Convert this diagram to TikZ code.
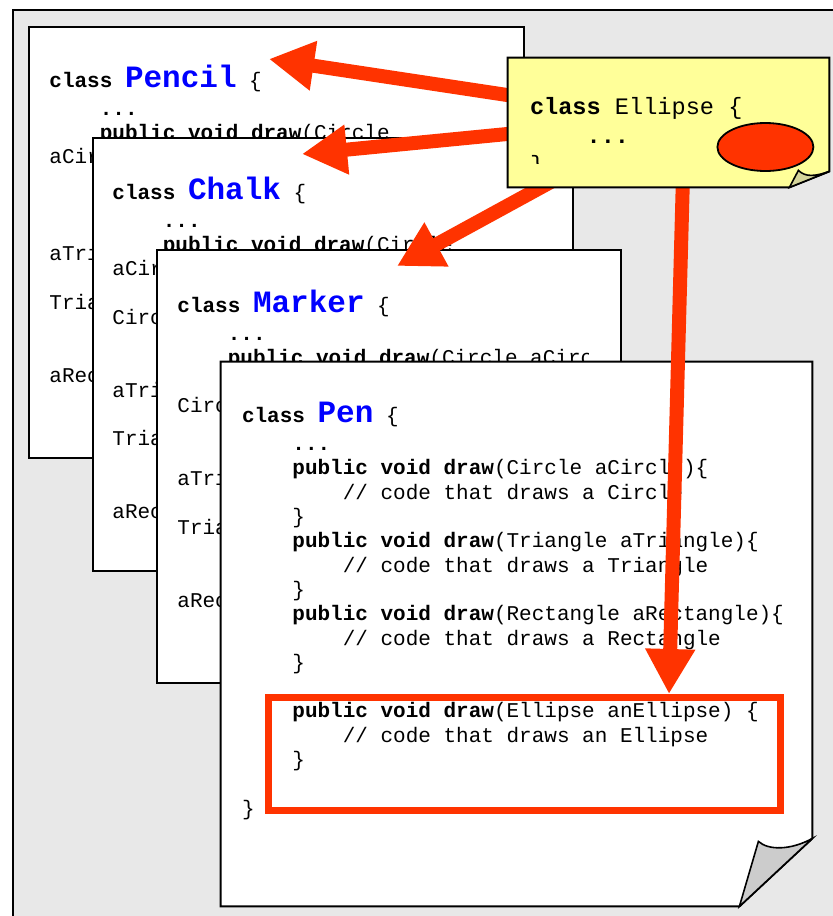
\documentclass[tikz,border=0pt]{standalone}
\usepackage{fontspec}
\usepackage{xcolor}
\usetikzlibrary{shapes.geometric,arrows.meta}

\newfontfamily\codefam{Liberation Mono}
\newcommand{\codefont}{\codefam\fontsize{10.5}{12.15}\selectfont}
\newcommand{\notefont}{\codefam\fontsize{11.8}{14.5}\selectfont}
\newcommand{\classname}[1]{{\fontsize{15.5}{15.5}\selectfont\bfseries\color{titleblue}#1}}
\newcommand{\indA}{\hspace*{2.4em}}
\newcommand{\indB}{\hspace*{4.8em}}
\newcommand{\kw}{\textbf{public void draw}}

\definecolor{framegray}{HTML}{E8E8E8}
\definecolor{hintred}{HTML}{FF3300}
\definecolor{noteyellow}{HTML}{FFFF99}
\definecolor{noteflap}{HTML}{D4D49A}
\definecolor{pageflap}{HTML}{CCCCCC}
\definecolor{titleblue}{HTML}{0000FF}

\begin{document}
\begin{tikzpicture}[x=0.5pt, y=-0.5pt,
    codepage/.style={draw, fill=white, line width=1pt, inner sep=0pt},
    code/.style={anchor=base west, inner sep=0pt, font=\codefont},
    pointer/.style={draw=hintred, line width=7pt, -{Triangle[length=22.5pt,width=23.5pt]}}]
    \clip (0,0) rectangle (833,916);
    \draw[fill=framegray, line width=0.8pt] (13,10) rectangle (860,940);

    % Pencil
    \node[codepage, minimum width=247.5pt, minimum height=215.5pt] (pencilPage) at (276.5,242.5) {};
    \node[code] (pencilCode) at ([xshift=10.5pt,yshift=-30.5pt]pencilPage.north west) {\begin{tabular}[t]{@{}l@{}}
        \textbf{class} \classname{Pencil} \{\\[1.85pt]
        \indA\textbf{...}\\
        \indA\kw(Circle\\
        aCircle)\{\\
        \indB// code that draws a Circle\\
        \indA\}\\
        \indA\kw(Triangle\\
        aTriangle)\{\\
        \indB// code that draws a\\
        Triangle\\
        \indA\}\\
        \indA\kw(Rectangle\\
        aRectangle)\{
    \end{tabular}};

    % Chalk
    \node[codepage, minimum width=240pt, minimum height=216.5pt] (chalkPage) at (333,354.5) {};
    \node[code] (chalkCode) at ([xshift=10pt,yshift=-31pt]chalkPage.north west) {\begin{tabular}[t]{@{}l@{}}
        \textbf{class} \classname{Chalk} \{\\[1.85pt]
        \indA\textbf{...}\\
        \indA\kw(Circle\\
        aCircle)\{\\
        \indB// code that draws a\\
        Circle\\
        \indA\}\\
        \indA\kw(Triangle\\
        aTriangle)\{\\
        \indB// code that draws a\\
        Triangle\\
        \indA\}\\
        \indA\kw(Rectangle\\
        aRectangle)\{
    \end{tabular}};

    % Marker
    \node[codepage, minimum width=232pt, minimum height=216.5pt] (markerPage) at (389,466.5) {};
    \begin{scope}
        \clip (markerPage.north west) rectangle ([xshift=-17pt]markerPage.south east);
        \node[code] (markerCode) at ([xshift=10.5pt,yshift=-31.5pt]markerPage.north west) {\begin{tabular}[t]{@{}l@{}}
            \textbf{class} \classname{Marker} \{\\[1.85pt]
            \indA\textbf{...}\\
            \indA\kw(Circle aCircle)\{\\
            \indB// code that draws a\\
            Circle\\
            \indA\}\\
            \indA\kw(Triangle\\
            aTriangle)\{\\
            \indB// code that draws a\\
            Triangle\\
            \indA\}\\
            \indA\kw(Rectangle\\
            aRectangle)\{
        \end{tabular}};
    \end{scope}

    % Pen, with its folded corner
    \node[minimum width=295.5pt, minimum height=272pt, inner sep=0pt] (penPage) at (516.5,634) {};
    \draw[fill=white, line width=1pt] (penPage.north west) -- (penPage.north east)
        -- ([yshift=34pt]penPage.south east) -- ([xshift=-36.5pt]penPage.south east)
        -- (penPage.south west) -- cycle;
    \draw[fill=pageflap, line width=0.8pt] ([xshift=-27pt,yshift=32.5pt]penPage.south east)
        .. controls ([xshift=-22pt,yshift=28pt]penPage.south east) and ([xshift=-11pt,yshift=28pt]penPage.south east)
        .. ([yshift=34pt]penPage.south east) -- ([xshift=-36.5pt]penPage.south east) -- cycle;
    \node[code] (penCode) at ([xshift=10.5pt,yshift=-30.5pt]penPage.north west) {\begin{tabular}[t]{@{}l@{}}
        \textbf{class} \classname{Pen} \{\\[1.85pt]
        \indA\textbf{...}\\
        \indA\kw(Circle aCircle)\{\\
        \indB// code that draws a Circle\\
        \indA\}\\
        \indA\kw(Triangle aTriangle)\{\\
        \indB// code that draws a Triangle\\
        \indA\}\\
        \indA\kw(Rectangle aRectangle)\{\\
        \indB// code that draws a Rectangle\\
        \indA\}\\
        \\
        \indA\kw(Ellipse anEllipse) \{\\
        \indB// code that draws an Ellipse\\
        \indA\}\\
        \\
        \}
    \end{tabular}};
    \node[draw=hintred, line width=3.5pt, minimum width=256pt, minimum height=56.5pt, inner sep=0pt] (ellipseMethod) at (524.5,754) {};

    % Ellipse note and its arrows
    \node[minimum width=160.5pt, minimum height=64.5pt, inner sep=0pt] (ellipseNote) at (668.5,122.5) {};
    \coordinate (pencilTip) at (269,59);
    \coordinate (chalkTip) at (302,154);
    \coordinate (markerTip) at (397,266);
    \draw[pointer] ([xshift=8pt,yshift=12.5pt]ellipseNote.west) -- (pencilTip);
    \draw[pointer] ([xshift=8pt,yshift=-4.95pt]ellipseNote.west) -- (chalkTip);
    \draw[pointer] ([xshift=-51pt,yshift=7pt]ellipseNote.south) -- (markerTip);
    \draw[pointer] ([xshift=7.25pt,yshift=6pt]ellipseNote.south) -- ([xshift=72.25pt]ellipseMethod.north);

    \draw[fill=noteyellow, line width=1pt] (ellipseNote.north west) -- (ellipseNote.north east)
        -- ([yshift=8pt]ellipseNote.south east) -- ([xshift=-20pt]ellipseNote.south east)
        -- (ellipseNote.south west) -- cycle;
    \draw[fill=noteflap, line width=0.8pt] ([xshift=-15.5pt,yshift=8.5pt]ellipseNote.south east)
        .. controls ([xshift=-12pt,yshift=5pt]ellipseNote.south east) and ([xshift=-7pt,yshift=5.5pt]ellipseNote.south east)
        .. ([yshift=8pt]ellipseNote.south east) -- ([xshift=-20pt]ellipseNote.south east) -- cycle;
    \node[ellipse, draw, fill=hintred, line width=0.9pt, minimum width=48pt, minimum height=24pt, inner sep=0pt] (ellipseShape) at ([xshift=-32pt,yshift=-12.25pt]ellipseNote.east) {};
    \begin{scope}
        \clip (ellipseNote.north west) rectangle ([yshift=12pt]ellipseNote.south east);
        \node[code, font=\notefont] (noteCode) at ([xshift=11pt,yshift=-28.5pt]ellipseNote.north west) {\begin{tabular}[t]{@{}l@{}}
            \textbf{class} Ellipse \{\\
            \indA\textbf{...}\\
            \}
        \end{tabular}};
    \end{scope}
\end{tikzpicture}
\end{document}
